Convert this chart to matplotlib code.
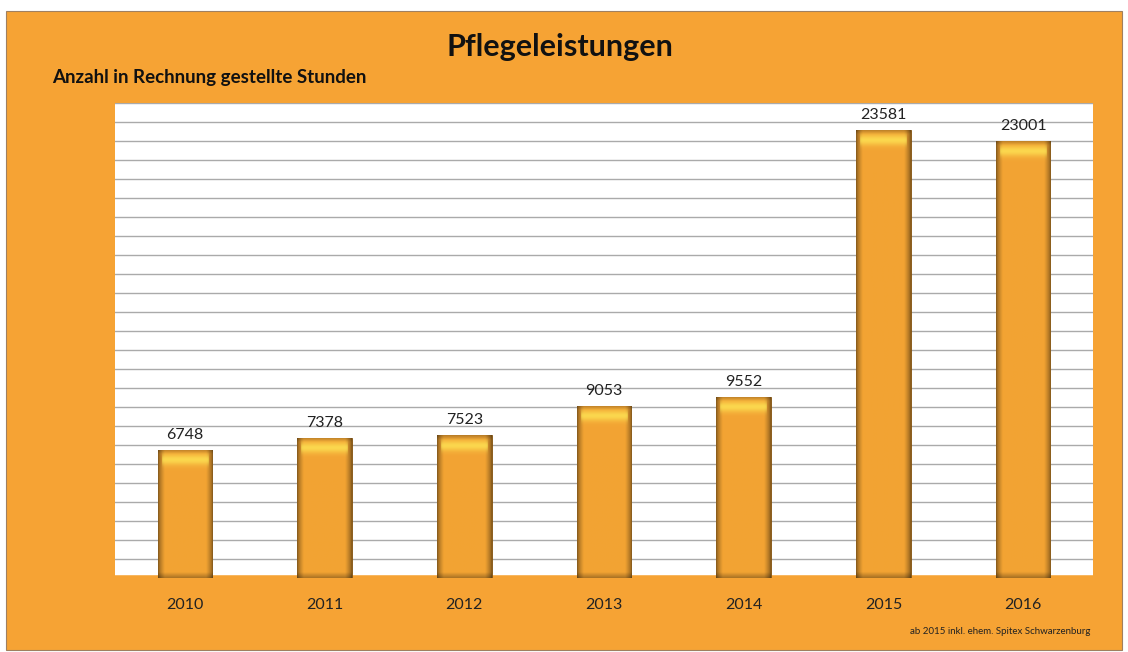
import numpy as np
import matplotlib.pyplot as plt
from matplotlib.patches import Rectangle

years = ['2010', '2011', '2012', '2013', '2014', '2015', '2016']
stunden = [6748, 7378, 7523, 9053, 9552, 23581, 23001]

W, H = 1128, 652
fig = plt.figure(figsize=(W / 100, H / 100), dpi=100)
fig.patch.set_facecolor('white')
plt.rcParams['font.family'] = ['Lato', 'DejaVu Sans']

# orange panel
fig.patches.append(Rectangle((6 / W, 1 - 650 / H), 1116 / W, 639 / H,
                             transform=fig.transFigure, facecolor='#F6A334',
                             edgecolor='#a08060', linewidth=0.8, zorder=0))

ax = fig.add_axes([115 / W, 1 - 578 / H, 978 / W, 475 / H])
ax.set_zorder(2)
ax.set_facecolor('white')
x = np.arange(len(years))
ax.set_xlim(-0.5, len(years) - 0.5)
ax.set_ylim(0, 25000)
ax.set_yticks(np.arange(0, 25001, 1000))
ax.yaxis.grid(True, color='#aaaaaa', linewidth=1.0)
ax.set_axisbelow(True)
ax.tick_params(axis='y', left=False, labelleft=False)
ax.tick_params(axis='x', bottom=False, labelsize=11.5, pad=11)
ax.set_xticks(x)
ax.set_xticklabels(years, color='#222222')
for s in ax.spines.values():
    s.set_visible(False)
ax.spines['bottom'].set_visible(True)
ax.spines['bottom'].set_color('#F6A334')
ax.spines['bottom'].set_linewidth(4)

bars = ax.bar(x, stunden, width=0.39, color='#EFA032', edgecolor='#7a4c0c',
              linewidth=0.6, zorder=3)

# bevelled look, sizes in data units so every bar looks the same
horiz = np.linspace(0, 1, 80)
edge = np.clip(np.minimum(horiz, 1 - horiz) / 0.12, 0, 1)
shade = 0.55 + 0.45 * edge ** 0.7
base = np.array([0.95, 0.64, 0.2])
hl = np.array([1.0, 0.93, 0.35])
for b in bars:
    x0, w, h = b.get_x(), b.get_width(), b.get_height()
    yy = np.linspace(0, h, 400)[:, None]
    img = np.ones((400, 80, 3)) * base
    img = img * shade[None, :, None]
    depth = h - yy
    top = np.exp(-((depth - 550) / 280) ** 2) * (edge > 0.6)[None, :]
    cap = np.clip((250 - depth) / 250, 0, 1)
    img = img * (1 - 0.7 * top[..., None]) + hl * 0.7 * top[..., None]
    img *= (1 - 0.25 * cap[..., None])
    bot = np.clip((300 - yy) / 300, 0, 1)
    img *= (1 - 0.3 * bot[..., None])
    im = ax.imshow(np.clip(img, 0, 1), extent=[x0, x0 + w, 0, h], origin='lower',
                   aspect='auto', zorder=3.5, interpolation='bilinear')
    im.set_clip_path(b)
    ax.text(x0 + w / 2, h + 400, f'{int(h)}', ha='center', va='bottom',
            fontsize=11.5, color='#222222', zorder=5)

fig.text(560 / W, 1 - 47 / H, 'Pflegeleistungen', ha='center', va='center',
         fontsize=22, fontweight='bold', color='#111111')
fig.text(52 / W, 1 - 77 / H, 'Anzahl in Rechnung gestellte Stunden', ha='left',
         va='center', fontsize=13.5, fontweight='bold', color='#111111')
fig.text(1000 / W, 1 - 631 / H, 'ab 2015 inkl. ehem. Spitex Schwarzenburg',
         ha='center', va='center', fontsize=7, color='#222222')

fig.savefig('out.png', dpi=100, facecolor=fig.get_facecolor())
